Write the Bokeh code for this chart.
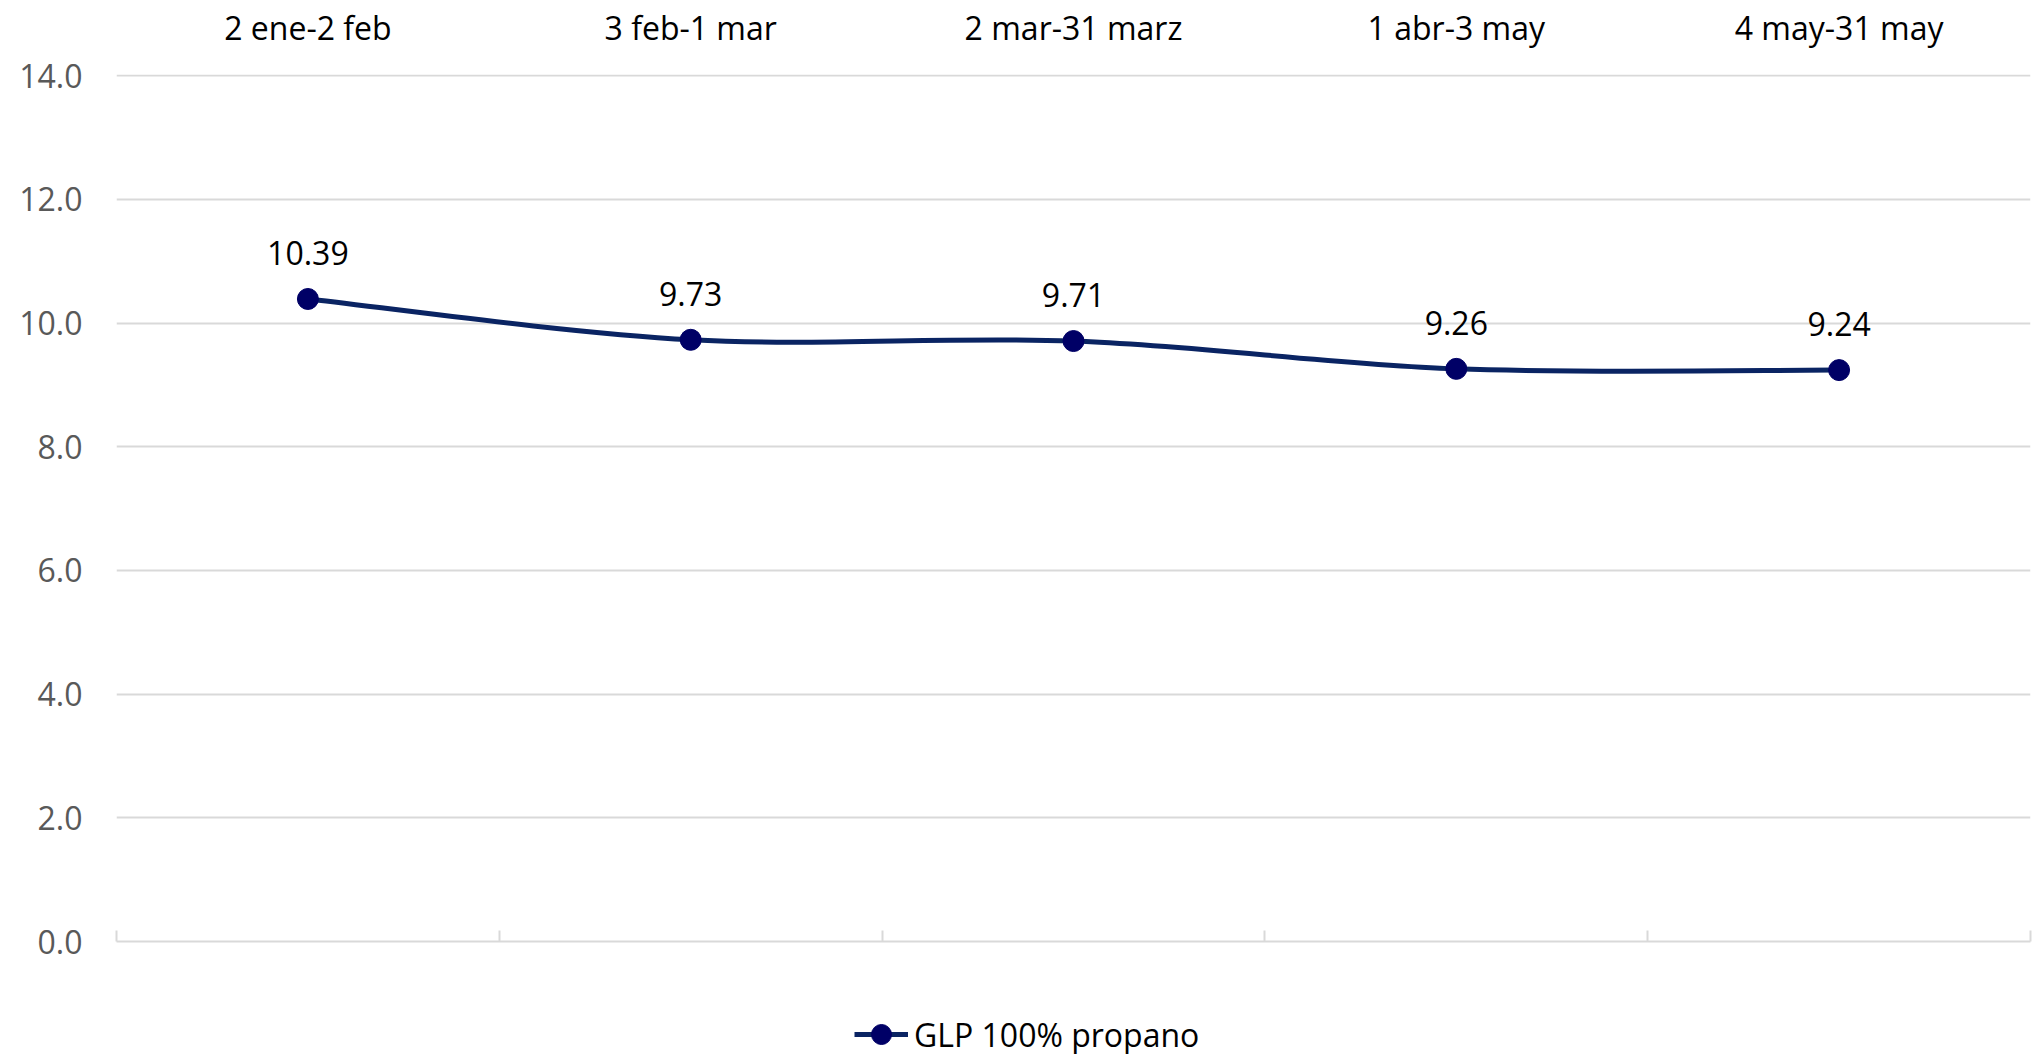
import numpy as np
from bokeh.plotting import figure
from bokeh.layouts import column
from bokeh.models import (Range1d, FixedTicker, LinearAxis, NumeralTickFormatter,
                          ColumnDataSource, LabelSet, Legend, LegendItem)
from bokeh.core.properties import value
from bokeh.embed import file_html
from bokeh.resources import INLINE

categories = ["2 ene-2 feb", "3 feb-1 mar", "2 mar-31 marz", "1 abr-3 may", "4 may-31 may"]
values = [10.39, 9.73, 9.71, 9.26, 9.24]
value_labels = ["10.39", "9.73", "9.71", "9.26", "9.24"]
y_ticks = [0, 2, 4, 6, 8, 10, 12, 14]
series_name = "GLP 100% propano"

FONT = "Open Sans"
LINE_COLOR = "#0A2463"
MARKER_COLOR = "#000066"
GRID_COLOR = "#D9D9D9"

n = len(categories)
x = np.arange(n) + 0.5
y = np.array(values, dtype=float)

# Excel-style smoothed line: Catmull-Rom converted to cubic Bezier segments
xp = np.concatenate([[x[0]], x, [x[-1]]])
yp = np.concatenate([[y[0]], y, [y[-1]]])
seg = dict(
    x0=xp[1:n], y0=yp[1:n],
    x1=xp[2:n + 1], y1=yp[2:n + 1],
    cx0=xp[1:n] + (xp[2:n + 1] - xp[0:n - 1]) / 6.0,
    cy0=yp[1:n] + (yp[2:n + 1] - yp[0:n - 1]) / 6.0,
    cx1=xp[2:n + 1] - (xp[3:n + 2] - xp[1:n]) / 6.0,
    cy1=yp[2:n + 1] - (yp[3:n + 2] - yp[1:n]) / 6.0,
)
seg_src = ColumnDataSource(seg)
pt_src = ColumnDataSource(dict(x=x, y=y, lab=value_labels))

W = 2034
p = figure(width=W, height=990, output_backend="svg", toolbar_location=None,
           x_range=Range1d(0, n), y_range=Range1d(0, 14.02),
           min_border_left=116, min_border_right=4, min_border_top=74, min_border_bottom=49)
p.outline_line_color = None
p.background_fill_color = "white"
p.border_fill_color = "white"

# bottom axis: baseline with inside ticks at band boundaries (no labels)
xa = p.xaxis[0]
xa.ticker = FixedTicker(ticks=list(range(n + 1)))
xa.major_label_text_color = None
xa.axis_line_color = GRID_COLOR
xa.axis_line_width = 2
xa.major_tick_line_color = GRID_COLOR
xa.major_tick_line_width = 2
xa.major_tick_in = 11
xa.major_tick_out = 0
xa.minor_tick_line_color = None

# top axis with category labels
top = LinearAxis(ticker=FixedTicker(ticks=list(x)),
                 major_label_overrides={float(xi): c for xi, c in zip(x, categories)})
top.axis_line_color = None
top.major_tick_line_color = None
top.minor_tick_line_color = None
top.major_tick_in = 0
top.major_tick_out = 0
top.major_label_text_font = FONT
top.major_label_text_font_size = "32px"
top.major_label_text_color = "#000000"
top.major_label_standoff = 26
p.add_layout(top, "above")

ya = p.yaxis[0]
ya.ticker = FixedTicker(ticks=y_ticks)
ya.formatter = NumeralTickFormatter(format="0.0")
ya.axis_line_color = None
ya.major_tick_line_color = None
ya.minor_tick_line_color = None
ya.major_tick_out = 0
ya.major_tick_in = 0
ya.major_label_standoff = 34
ya.major_label_text_font = FONT
ya.major_label_text_font_size = "32px"
ya.major_label_text_color = "#595959"

p.xgrid.visible = False
p.ygrid.grid_line_color = GRID_COLOR
p.ygrid.grid_line_width = 2

line_style = dict(line_color=LINE_COLOR, line_width=5)
marker_style = dict(size=21, fill_color=MARKER_COLOR, line_color=MARKER_COLOR)

p.bezier(x0="x0", y0="y0", x1="x1", y1="y1", cx0="cx0", cy0="cy0",
         cx1="cx1", cy1="cy1", source=seg_src, **line_style)
p.scatter(x="x", y="y", source=pt_src, **marker_style)

labels = LabelSet(x="x", y="y", text="lab", source=pt_src, y_offset=46,
                  text_align="center", text_baseline="middle",
                  text_font=value(FONT), text_font_size="32px", text_color="#000000")
p.add_layout(labels)

# legend strip below the chart (renderers share the series data, ranges keep them off-view)
lf = figure(width=W, height=64, output_backend="svg", toolbar_location=None,
            x_range=Range1d(100, 101), y_range=Range1d(100, 101),
            x_axis_location=None, y_axis_location=None,
            min_border_left=0, min_border_right=0, min_border_top=0, min_border_bottom=0)
lf.outline_line_color = None
lf.xgrid.visible = False
lf.ygrid.visible = False
lb = lf.bezier(x0="x0", y0="y0", x1="x1", y1="y1", cx0="cx0", cy0="cy0",
               cx1="cx1", cy1="cy1", source=seg_src, **line_style)
ls = lf.scatter(x="x", y="y", source=pt_src, **marker_style)

legend = Legend(items=[LegendItem(label=series_name, renderers=[lb, ls])],
                location=(738, -5), orientation="horizontal",
                label_text_font=FONT, label_text_font_size="32px", label_text_color="#000000",
                glyph_width=54, glyph_height=50, label_standoff=6,
                border_line_color=None, background_fill_alpha=0, padding=0, margin=0)
lf.add_layout(legend, "center")

layout = column(p, lf, spacing=0)
open("out.html", "w").write(file_html(layout, INLINE))
